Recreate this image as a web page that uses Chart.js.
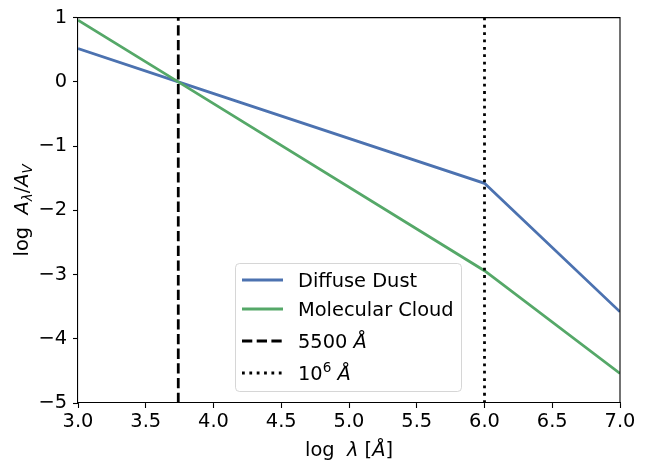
<!DOCTYPE html>
<html>
<head>
<meta charset="utf-8">
<script src="https://cdn.jsdelivr.net/npm/chart.js"></script>
<style>
  html, body { margin: 0; padding: 0; background: #fff; }
  #wrap { width: 645px; height: 473px; }
</style>
</head>
<body>
<div id="wrap"><canvas id="extinction" width="645" height="473"></canvas></div>
<script>
// values
var logLambda = [3.0, 3.74, 6.0, 7.0];
var diffuseDust = [0.52, 0.0, -1.58, -3.58];
var molecularCloud = [0.96, 0.0, -2.94, -4.54];
var refLines = [3.74, 6.0];
var refLabels = ["5500 Å", "10^6 Å"];
var xRange = [3.0, 7.0];
var yRange = [-5, 1];

var FONT = "DejaVu Sans";
var FS = 19.4;
var LW = 2.78;

function pts(xs, ys) {
  return xs.map(function (x, i) { return { x: x, y: ys[i] }; });
}
function vline(x) {
  return [{ x: x, y: yRange[0] }, { x: x, y: yRange[1] }];
}

// split a label into parts: ^n -> superscript, Å -> italic (mathtext)
function richParts(label) {
  var parts = [];
  var re = /(\^\w+)|(Å)|([^\^Å]+)/g, m;
  while ((m = re.exec(label))) {
    if (m[1]) parts.push({ t: m[1].slice(1), sup: true });
    else if (m[2]) parts.push({ t: "Å", italic: true });
    else parts.push({ t: m[3] });
  }
  return parts;
}

function partFont(p, size) {
  var s = (p.sup || p.sub) ? size * 0.7 : size;
  return (p.italic ? "italic " : "") + s + "px '" + FONT + "'";
}

function richWidth(ctx, parts, size) {
  var w = 0;
  parts.forEach(function (p) { ctx.font = partFont(p, size); w += ctx.measureText(p.t).width; });
  return w;
}

function drawRich(ctx, parts, x, y, size) {
  ctx.textBaseline = "alphabetic";
  ctx.textAlign = "left";
  parts.forEach(function (p) {
    ctx.font = partFont(p, size);
    var dy = p.sup ? -size * 0.42 : (p.sub ? size * 0.22 : 0);
    ctx.fillText(p.t, x, y + dy);
    x += ctx.measureText(p.t).width;
  });
}

var frameAndLabels = {
  id: "frameAndLabels",
  afterDraw: function (chart) {
    var ctx = chart.ctx, a = chart.chartArea;
    ctx.save();
    // top/right spines
    ctx.strokeStyle = "#000";
    ctx.lineWidth = 1.1;
    ctx.beginPath();
    ctx.moveTo(a.left, a.top); ctx.lineTo(a.right, a.top); ctx.lineTo(a.right, a.bottom);
    ctx.stroke();

    ctx.fillStyle = "#000";
    // x title
    var xt = [{ t: "log  " }, { t: "λ", italic: true }, { t: " [" }, { t: "Å", italic: true }, { t: "]" }];
    var w = richWidth(ctx, xt, FS);
    drawRich(ctx, xt, (a.left + a.right) / 2 - w / 2, 456, FS);

    // y title
    var yt = [{ t: "log  " }, { t: "A", italic: true }, { t: "λ", italic: true, sub: true },
              { t: "/" }, { t: "A", italic: true }, { t: "V", italic: true, sub: true }];
    var wy = richWidth(ctx, yt, FS);
    ctx.translate(28, (a.top + a.bottom) / 2);
    ctx.rotate(-Math.PI / 2);
    drawRich(ctx, yt, -wy / 2, 0, FS);
    ctx.restore();

    // legend box
    ctx.save();
    var bx = 235.5, by = 263.5, bw = 226, bh = 128, r = 4;
    ctx.beginPath();
    ctx.moveTo(bx + r, by);
    ctx.arcTo(bx + bw, by, bx + bw, by + bh, r);
    ctx.arcTo(bx + bw, by + bh, bx, by + bh, r);
    ctx.arcTo(bx, by + bh, bx, by, r);
    ctx.arcTo(bx, by, bx + bw, by, r);
    ctx.closePath();
    ctx.fillStyle = "rgba(255,255,255,0.8)";
    ctx.fill();
    ctx.strokeStyle = "rgba(204,204,204,0.8)";
    ctx.lineWidth = 1;
    ctx.stroke();

    var rows = [280, 309, 341, 373];
    chart.data.datasets.forEach(function (ds, i) {
      var yy = rows[i];
      ctx.strokeStyle = ds.borderColor;
      ctx.lineWidth = LW;
      ctx.setLineDash(ds.borderDash || []);
      ctx.lineCap = "butt";
      ctx.beginPath();
      ctx.moveTo(242, yy); ctx.lineTo(283, yy);
      ctx.stroke();
      ctx.setLineDash([]);
      ctx.fillStyle = "#000";
      drawRich(ctx, richParts(ds.label), 298, yy + 7, FS);
    });
    ctx.restore();
  }
};

new Chart(document.getElementById("extinction"), {
  type: "scatter",
  data: {
    datasets: [
      { label: "Diffuse Dust", data: pts(logLambda, diffuseDust), borderColor: "#4C72B0", order: 3 },
      { label: "Molecular Cloud", data: pts(logLambda, molecularCloud), borderColor: "#55A868", order: 2 },
      { label: refLabels[0], data: vline(refLines[0]), borderColor: "#000", borderDash: [10.3, 4.4], order: 1 },
      { label: refLabels[1], data: vline(refLines[1]), borderColor: "#000", borderDash: [2.78, 4.58], order: 0 }
    ].map(function (d) {
      d.showLine = true;
      d.borderWidth = LW;
      d.pointRadius = 0;
      d.pointHoverRadius = 0;
      d.tension = 0;
      d.backgroundColor = d.borderColor;
      return d;
    })
  },
  options: {
    responsive: false,
    animation: false,
    devicePixelRatio: 1,
    layout: { padding: { top: 17, right: 25, left: 0, bottom: 0 } },
    plugins: { legend: { display: false }, tooltip: { enabled: false } },
    scales: {
      x: {
        type: "linear",
        min: xRange[0], max: xRange[1],
        afterFit: function (s) { s.height = 70; },
        grid: { drawOnChartArea: false, tickLength: 5, color: "#000", tickWidth: 1.1 },
        border: { color: "#000", width: 1.1 },
        ticks: {
          stepSize: 0.5, padding: 2, color: "#000", maxRotation: 0,
          font: { family: FONT, size: FS },
          callback: function (v) { return v.toFixed(1); }
        }
      },
      y: {
        type: "linear",
        min: yRange[0], max: yRange[1],
        afterFit: function (s) { s.width = 78; },
        grid: { drawOnChartArea: false, tickLength: 5, color: "#000", tickWidth: 1.1 },
        border: { color: "#000", width: 1.1 },
        ticks: {
          stepSize: 1, padding: 6, color: "#000",
          font: { family: FONT, size: FS },
          callback: function (v) { return v < 0 ? "\u2212" + Math.abs(v) : String(v); }
        }
      }
    }
  },
  plugins: [frameAndLabels]
});
</script>
</body>
</html>
